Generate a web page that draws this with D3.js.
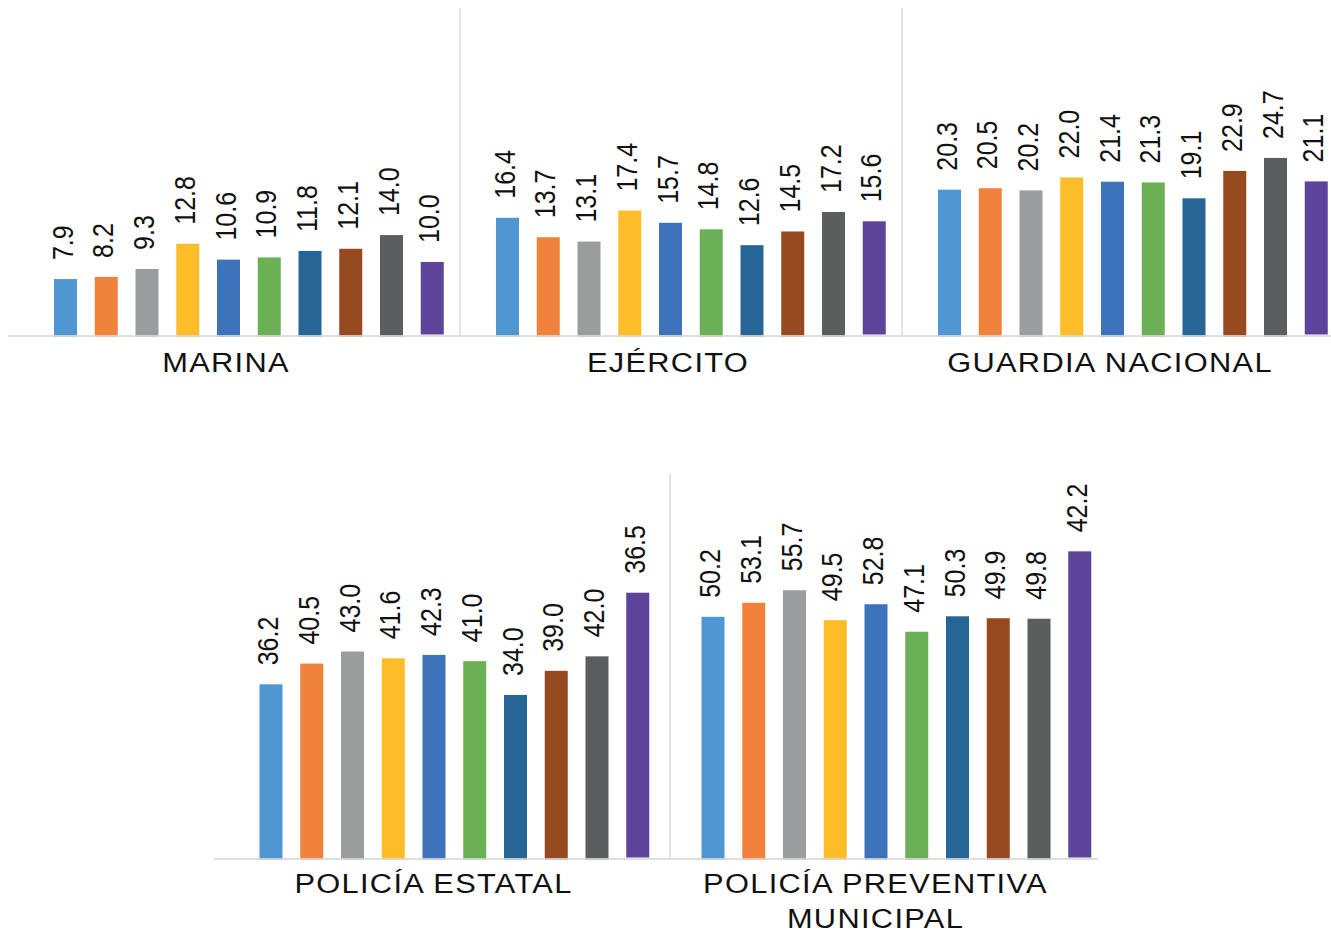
<!DOCTYPE html>
<html>
<head>
<meta charset="utf-8">
<script src="https://cdn.jsdelivr.net/npm/d3@7"></script>
<style>
  html, body { margin: 0; padding: 0; background: #fff; }
  svg { display: block; }
  text { font-family: 'Liberation Sans', Arial, Helvetica, sans-serif; fill: #111; }
</style>
</head>
<body>
<svg id="chart" width="1331" height="934"></svg>
<script>
// categories per row
const topCategories = ['MARINA', 'EJÉRCITO', 'GUARDIA NACIONAL']
const bottomCategories = ['POLICÍA ESTATAL', 'POLICÍA PREVENTIVA MUNICIPAL']

// ten series, no legend in the source
const series = ['s1', 's2', 's3', 's4', 's5', 's6', 's7', 's8', 's9', 's10']
const colors = ['#4f97d3', '#f0823c', '#9a9d9e', '#fdbd28', '#3d73bb', '#6cb055',
  '#276597', '#974a20', '#5a5e5f', '#5d4399']

// values, one array per category
const marina = [7.9, 8.2, 9.3, 12.8, 10.6, 10.9, 11.8, 12.1, 14.0, 10.0]
const ejercito = [16.4, 13.7, 13.1, 17.4, 15.7, 14.8, 12.6, 14.5, 17.2, 15.6]
const guardia = [20.3, 20.5, 20.2, 22.0, 21.4, 21.3, 19.1, 22.9, 24.7, 21.1]
const estatal = [36.2, 40.5, 43.0, 41.6, 42.3, 41.0, 34.0, 39.0, 42.0, 36.5]
const preventiva = [50.2, 53.1, 55.7, 49.5, 52.8, 47.1, 50.3, 49.9, 49.8, 42.2]

// the last series sits on its own (secondary) value axis
const secondary = 's10'

const rows = [
  { cats: topCategories, data: [marina, ejercito, guardia], x0: 18, y0: 336, top: 8,
    yMax: 45.5, y2Max: 45, barOffset: 47.5, labelOffset: 208, labelY: 372, axis: [8, 1331] },
  { cats: bottomCategories, data: [estatal, preventiva], x0: 228, y0: 859, top: 473,
    yMax: 80, y2Max: 53, barOffset: 43, labelOffset: 205.5, labelY: 893, axis: [214, 1098] }
]

const catWidth = 442
const step = 40.75
const barWidth = 23
const stretch = 1.15
const labelStretch = 1.1

const svg = d3.select('#chart')
const color = d3.scaleOrdinal().domain(series).range(colors)

rows.forEach(row => {
  const x = d3.scaleBand()
    .domain(row.cats)
    .range([row.x0, row.x0 + row.cats.length * catWidth])
  const xs = d3.scalePoint()
    .domain(series)
    .range([row.barOffset, row.barOffset + (series.length - 1) * step])
  const y = d3.scaleLinear().domain([0, row.yMax]).range([row.y0, row.top])
  const y2 = d3.scaleLinear().domain([0, row.y2Max]).range([row.y0 - 1.5, row.top])

  const g = svg.append('g')

  // dividers between categories
  g.append('g').selectAll('line')
    .data(row.cats.slice(1))
    .join('line')
      .attr('x1', d => x(d))
      .attr('x2', d => x(d))
      .attr('y1', row.top)
      .attr('y2', row.y0)
      .attr('stroke', '#d9d9d9')
      .attr('stroke-width', 1.5)

  const groups = g.selectAll('g.cat')
    .data(row.cats.map((c, i) => ({ cat: c, values: row.data[i] })))
    .join('g')
      .classed('cat', true)
      .attr('transform', d => `translate(${x(d.cat)},0)`)

  const items = d => series.map((s, i) => ({ key: s, value: d.values[i] }))
  const scaleFor = d => d.key === secondary ? y2 : y
  const base = d => d.key === secondary ? y2(0) : row.y0 + 1

  groups.selectAll('rect')
    .data(items)
    .join('rect')
      .attr('x', d => xs(d.key) - barWidth / 2)
      .attr('width', barWidth)
      .attr('y', d => scaleFor(d)(d.value))
      .attr('height', d => base(d) - scaleFor(d)(d.value))
      .attr('fill', d => color(d.key))

  groups.selectAll('text.value')
    .data(items)
    .join('text')
      .classed('value', true)
      .attr('transform', d =>
        `translate(${xs(d.key) - 3},${scaleFor(d)(d.value) - 19}) scale(${stretch},1) rotate(-90)`)
      .attr('dy', '0.35em')
      .style('font-size', '25px')
      .text(d => d.value.toFixed(1))

  // category labels, wrapped when too wide
  groups.append('text')
    .attr('transform', `translate(${row.labelOffset},${row.labelY}) scale(${labelStretch},1)`)
    .attr('text-anchor', 'middle')
    .style('font-size', '28px')
    .style('letter-spacing', '1.2px')
    .each(function (d) {
      const text = d3.select(this)
      const words = d.cat.split(' ')
      let lines = [], line = []
      words.forEach(w => {
        line.push(w)
        text.text(line.join(' '))
        if (this.getComputedTextLength() * labelStretch > catWidth - 20 && line.length > 1) {
          line.pop()
          lines.push(line.join(' '))
          line = [w]
        }
      })
      lines.push(line.join(' '))
      text.text(null)
      lines.forEach((l, i) => {
        text.append('tspan').attr('x', 0).attr('dy', i ? 35 : 0).text(l)
      })
    })

  // category axis line drawn over the bar feet
  g.append('line')
    .attr('x1', row.axis[0])
    .attr('x2', row.axis[1])
    .attr('y1', row.y0)
    .attr('y2', row.y0)
    .attr('stroke', '#d9d9d9')
    .attr('stroke-opacity', 0.85)
    .attr('stroke-width', 2)
})
</script>
</body>
</html>
